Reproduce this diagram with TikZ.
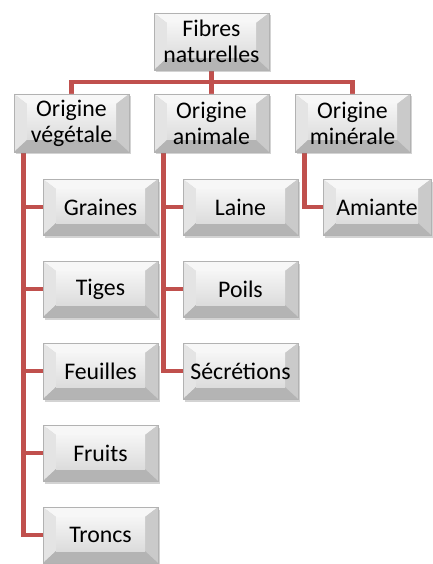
\documentclass[tikz,border=0pt]{standalone}
\usepackage{fontspec}
\setmainfont{Carlito}
\usetikzlibrary{shadows,backgrounds}
\definecolor{linkred}{HTML}{C0504D}
\definecolor{bevtop}{HTML}{F7F7F7}
\definecolor{bevleft}{HTML}{E4E4E4}
\definecolor{bevright}{HTML}{CACACA}
\definecolor{bevbot}{HTML}{B4B4B4}
\definecolor{faceT}{HTML}{F5F5F5}
\definecolor{faceB}{HTML}{DCDCDC}
\tikzset{
  bev/.style={rectangle, minimum width=115pt, minimum height=56pt, inner sep=0pt,
    align=center, font=\fontsize{23.8}{26}\selectfont, text=black,
    draw=black!30, line width=0.6pt,
    drop shadow={opacity=0.35, shadow xshift=1.5pt, shadow yshift=-2.5pt},
    path picture={
      \path (path picture bounding box.north west) coordinate (@nw)
            (path picture bounding box.south east) coordinate (@se)
            (path picture bounding box.north east) coordinate (@ne)
            (path picture bounding box.south west) coordinate (@sw);
      \path ([shift={(13pt,-10pt)}]@nw) coordinate (@inw)
            ([shift={(-13pt,-10pt)}]@ne) coordinate (@ine)
            ([shift={(-13pt,12pt)}]@se) coordinate (@ise)
            ([shift={(13pt,12pt)}]@sw) coordinate (@isw);
      \fill[bevtop] (@nw) -- (@ne) -- (@ine) -- (@inw) -- cycle;
      \fill[bevleft] (@nw) -- (@inw) -- (@isw) -- (@sw) -- cycle;
      \fill[bevright] (@ne) -- (@ine) -- (@ise) -- (@se) -- cycle;
      \fill[bevbot] (@sw) -- (@isw) -- (@ise) -- (@se) -- cycle;
      \shade[top color=faceT, bottom color=faceB] (@inw) rectangle (@ise);
    }},
  link/.style={draw=linkred, line width=4.5pt, line join=miter}
}
\begin{document}
\begin{tikzpicture}[x=1pt,y=-1pt]
\useasboundingbox (0,0) rectangle (433,564);
\node[bev, minimum height=57pt] (fib) at (211.5,41.5) {Fibres\\naturelles};
\node[bev, minimum height=58pt] (veg) at (71.5,123) {Origine\\végétale};
\node[bev, minimum height=58pt] (ani) at (211.5,123) {Origine\\animale};
\node[bev, minimum height=58pt] (min) at (352.5,123) {Origine\\minérale};
\node[bev] (gra) at (100.5,207) {Graines};
\node[bev] (tig) at (100.5,289) {Tiges};
\node[bev] (feu) at (100.5,371) {Feuilles};
\node[bev] (fru) at (100.5,453) {Fruits};
\node[bev] (tro) at (100.5,535) {Troncs};
\node[bev] (lai) at (240.5,207) {Laine};
\node[bev] (poi) at (240.5,289) {Poils};
\node[bev] (sec) at (240.5,371) {Sécrétions};
\node[bev, minimum width=108pt] (ami) at (377,207) {Amiante};
\begin{scope}[on background layer]
  \coordinate (bus) at (0,82);
  \draw[link] (fib.south) -- (fib.south |- bus);
  \draw[link] (veg.north) |- (bus -| fib.south) -| (min.north);
  \draw[link] (ani.north) -- (ani.north |- bus);
  \coordinate (vv) at ([xshift=10pt]veg.south west);
  \coordinate (va) at ([xshift=10pt]ani.south west);
  \coordinate (vm) at ([xshift=10pt]min.south west);
  \draw[link] (vv) |- (tro.west);
  \foreach \n in {gra,tig,feu,fru} \draw[link] (vv |- \n.west) -- (\n.west);
  \draw[link] (va) |- (sec.west);
  \foreach \n in {lai,poi} \draw[link] (va |- \n.west) -- (\n.west);
  \draw[link] (vm) |- (ami.west);
\end{scope}
\end{tikzpicture}
\end{document}
